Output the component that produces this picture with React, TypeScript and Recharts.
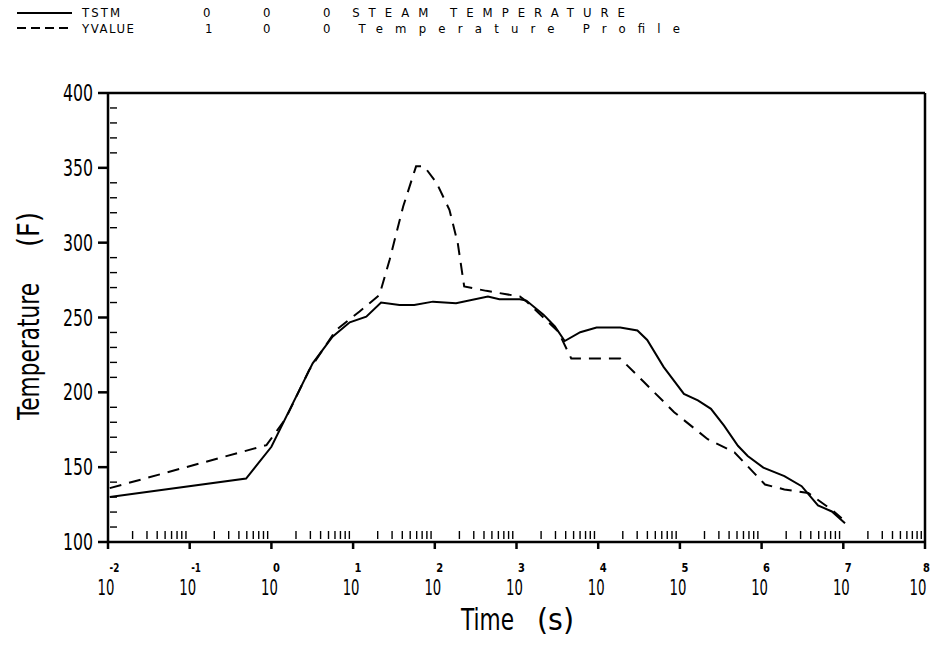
import { Line, LineChart, ReferenceLine, XAxis, YAxis } from 'recharts'

// time in seconds, temperature in F
const tstmTime = [
  0.0105, 0.49, 1.0, 2.2, 3.2, 5.6, 9.1, 14.5, 22, 37, 56, 95, 182, 447, 617, 1100, 1320, 2140, 2950,
  3890, 6030, 9550, 18600, 30200, 39800, 63100, 112000, 166000, 240000, 347000, 513000, 676000,
  1050000, 1900000, 3090000, 4900000, 7240000, 10500000,
]
const tstmTemp = [
  130, 142.4, 163.6, 201.5, 219.4, 237.2, 246.8, 250.6, 260, 258.4, 258.4, 260.6, 259.6, 264, 262.2,
  262.2, 261.3, 251.9, 244, 234.3, 240.2, 243.3, 243.3, 241.3, 235, 217, 199, 194.6, 189, 177.7, 164.3,
  157.5, 149.7, 144, 137.3, 124.5, 120.4, 112.6,
]

const yvalueTime = [
  0.0105, 0.87, 1.5, 2.9, 6.2, 12, 21, 28, 41, 59, 74, 105, 151, 191, 229, 427, 1100, 1320, 3240, 4680,
  18600, 36300, 85100, 219000, 468000, 1100000, 1900000, 3720000, 7240000, 9550000,
]
const yvalueTemp = [
  136, 164.7, 182.6, 214.9, 241.7, 254, 265, 288.6, 324.2, 351, 351, 340, 322, 299.7, 270.7, 267.8,
  264, 260.8, 240.6, 222.6, 222.6, 206.9, 186.7, 168.7, 159.8, 138.4, 135.1, 132.8, 121.5, 115.9,
]

const decades = [-2, -1, 0, 1, 2, 3, 4, 5, 6, 7, 8]
const yTicks = [100, 110, 120, 130, 140, 150, 160, 170, 180, 190, 200, 210, 220, 230, 240, 250, 260, 270, 280, 290, 300, 310, 320, 330, 340, 350, 360, 370, 380, 390, 400]

const tstmData = tstmTime.map((t, i) => ({ t, v: tstmTemp[i] }))
const yvalueData = yvalueTime.map((t, i) => ({ t, v: yvalueTemp[i] }))

const majorTicks = decades.map((d) => Number((10 ** d).toPrecision(3)))
const minorTicks = decades.slice(0, -1).flatMap((d) =>
  [2, 3, 4, 5, 6, 7, 8, 9].map((m) => Number((m * 10 ** d).toPrecision(3))),
)
const xTicks = [...majorTicks, ...minorTicks]

const FONT = "'DejaVu Sans Condensed', 'DejaVu Sans', sans-serif"
const INK = '#000'

function XTick(props: any) {
  const { x, y, payload } = props
  const lg = Math.log10(payload.value)
  const e = Math.round(lg)
  if (Math.abs(lg - e) > 1e-6) {
    return <line x1={x} x2={x} y1={y - 11} y2={y - 3} stroke={INK} strokeWidth={1.4} />
  }
  const neg = e < 0
  const last = e === decades[decades.length - 1]
  return (
    <g fontFamily={FONT} fill={INK}>
      <line x1={x} x2={x} y1={y} y2={y + 7} stroke={INK} strokeWidth={2.5} />
      <text
        transform={`translate(${last ? x - 2 : x + 1.5},${y + 30}) scale(${neg ? 0.75 : 0.85},1)`}
        fontSize={13}
        fontWeight="bold"
        textAnchor="start"
      >
        {neg ? `-${-e}` : e}
      </text>
      <text
        transform={`translate(${last ? x - 7 : x - 2},${y + 53}) scale(0.7,1)`}
        fontSize={21}
        textAnchor="middle"
      >
        10
      </text>
    </g>
  )
}

function YTick(props: any) {
  const { x, y, payload } = props
  const v = payload.value
  if (v % 50 !== 0) {
    return <line x1={x + 2} x2={x + 9} y1={y} y2={y} stroke={INK} strokeWidth={1.4} />
  }
  return (
    <g fontFamily={FONT} fill={INK}>
      <line x1={x - 10} x2={x} y1={y} y2={y} stroke={INK} strokeWidth={2.5} />
      <text x={x - 45} y={y + 8} fontSize={23} textLength={30} lengthAdjust="spacingAndGlyphs">
        {v}
      </text>
    </g>
  )
}

function Legend() {
  return (
    <g fontFamily={FONT} fontSize={13} fill={INK}>
      <line x1={17} x2={72} y1={13} y2={13} stroke={INK} strokeWidth={2} />
      <text x={82} y={17} textLength={38}>TSTM</text>
      <text x={203} y={17}>0</text>
      <text x={263} y={17}>0</text>
      <text x={323} y={17} textLength={302}>0 STEAM TEMPERATURE</text>
      <line x1={17} x2={72} y1={28} y2={28} stroke={INK} strokeWidth={2} strokeDasharray="9 5" />
      <text x={82} y={33} textLength={52}>YVALUE</text>
      <text x={205} y={33}>1</text>
      <text x={263} y={33}>0</text>
      <text x={323} y={33} textLength={357}>0 Temperature Profile</text>
    </g>
  )
}

function Titles() {
  return (
    <g fontFamily={FONT} fontSize={30} fill={INK}>
      <text x={461} y={630} textLength={53} lengthAdjust="spacingAndGlyphs">Time</text>
      <text x={537} y={630} textLength={37} lengthAdjust="spacingAndGlyphs">(s)</text>
      <g transform="translate(39,420) rotate(-90)">
        <text x={0} y={0} textLength={137} lengthAdjust="spacingAndGlyphs">Temperature</text>
        <text x={173} y={0} textLength={35} lengthAdjust="spacingAndGlyphs">(F)</text>
      </g>
    </g>
  )
}

export default function App() {
  return (
    <div style={{ position: 'absolute', left: 0, top: 0, width: 933, height: 645, background: '#fff' }}>
      <svg width={933} height={645} style={{ position: 'absolute', left: 0, top: 0 }}>
        <Legend />
        <Titles />
      </svg>
      <div style={{ position: 'absolute', left: 0, top: 0 }}>
        <LineChart width={933} height={645} margin={{ top: 93, right: 8, bottom: 3, left: 0 }}>
          <XAxis
            dataKey="t"
            type="number"
            scale="log"
            domain={[0.01, 1e8]}
            ticks={xTicks}
            interval={0}
            allowDataOverflow
            height={100}
            tickLine={false}
            tickSize={0}
            tickMargin={0}
            tick={<XTick />}
            axisLine={{ stroke: INK, strokeWidth: 2.5 }}
          />
          <YAxis
            type="number"
            domain={[100, 400]}
            ticks={yTicks}
            interval={0}
            width={108}
            tickLine={false}
            tickSize={0}
            tickMargin={0}
            tick={<YTick />}
            axisLine={{ stroke: INK, strokeWidth: 2.5 }}
          />
          <ReferenceLine y={400} stroke={INK} strokeWidth={2.5} />
          <ReferenceLine x={1e8} stroke={INK} strokeWidth={2.5} />
          <Line
            data={tstmData}
            dataKey="v"
            type="linear"
            stroke={INK}
            strokeWidth={2}
            dot={false}
            isAnimationActive={false}
          />
          <Line
            data={yvalueData}
            dataKey="v"
            type="linear"
            stroke={INK}
            strokeWidth={2}
            strokeDasharray="12 8"
            dot={false}
            isAnimationActive={false}
          />
        </LineChart>
      </div>
    </div>
  )
}
